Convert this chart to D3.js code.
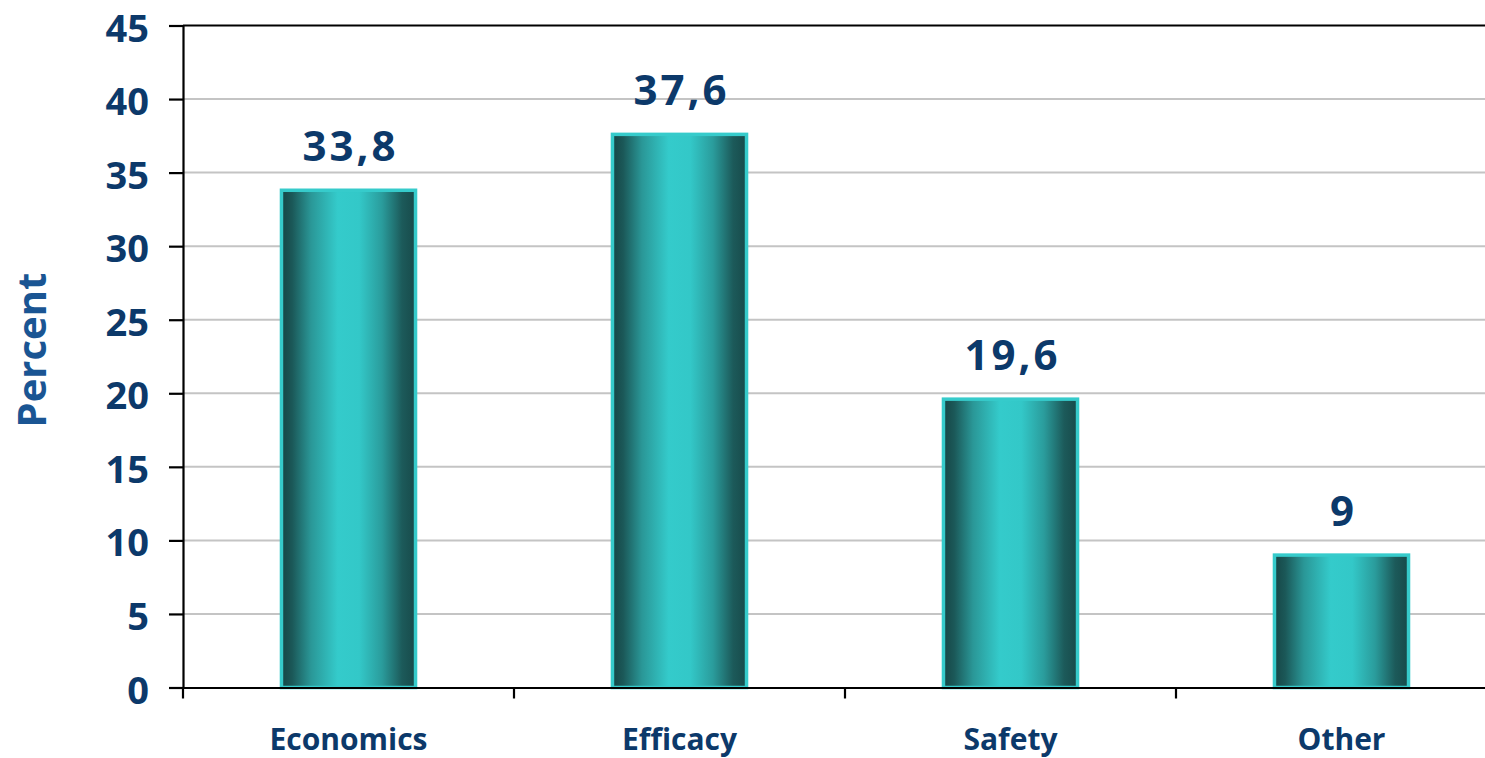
<!DOCTYPE html>
<html>
<head>
<meta charset="utf-8">
<script src="https://cdn.jsdelivr.net/npm/d3@7"></script>
<style>
  html, body { margin: 0; padding: 0; background: #fff; overflow: hidden; }
  svg { display: block; }
</style>
</head>
<body>
<script>
const categories = ["Economics", "Efficacy", "Safety", "Other"];
const values = [33.8, 37.6, 19.6, 9];
const valueLabels = ["33,8", "37,6", "19,6", "9"];
const yTicks = [0, 5, 10, 15, 20, 25, 30, 35, 40, 45];
const yTitle = "Percent";

const W = 1485, H = 758;
const plotLeft = 183, plotRight = 1507, plotTop = 25.5, plotBottom = 687.5;

const svg = d3.select("body").append("svg").attr("width", W).attr("height", H);

const x = d3.scaleBand().domain(categories).range([plotLeft, plotRight]).paddingInner(0).paddingOuter(0);
const y = d3.scaleLinear().domain([0, 45]).range([plotBottom, plotTop]);

const defs = svg.append("defs");
const grad = defs.append("linearGradient").attr("id", "barGrad")
  .attr("x1", "0%").attr("x2", "100%").attr("y1", "0%").attr("y2", "0%");
[[0, "#164646"], [0.08, "#1b5858"], [0.22, "#2a9797"], [0.42, "#34cbcb"], [0.58, "#33c8c8"], [0.75, "#2a9c9c"], [0.9, "#1c5a5a"], [1, "#174a4a"]]
  .forEach(([o, c]) => grad.append("stop").attr("offset", o).attr("stop-color", c));

// grid lines
svg.append("g").selectAll("line").data(yTicks.filter(d => d > 0 && d < 45)).join("line")
  .attr("x1", plotLeft).attr("x2", plotRight)
  .attr("y1", d => y(d)).attr("y2", d => y(d))
  .attr("stroke", "#c4c4c4").attr("stroke-width", 2);

// top border line
svg.append("line").attr("x1", plotLeft).attr("x2", plotRight).attr("y1", y(45)).attr("y2", y(45))
  .attr("stroke", "#000").attr("stroke-width", 2);

// bars
const barFrac = 0.405;
const bw = x.bandwidth() * barFrac;
svg.append("g").selectAll("rect").data(categories).join("rect")
  .attr("x", d => x(d) + (x.bandwidth() - bw) / 2)
  .attr("width", bw)
  .attr("y", (d, i) => y(values[i]))
  .attr("height", (d, i) => y(0) - y(values[i]))
  .attr("fill", "url(#barGrad)")
  .attr("stroke", "#36cbcb").attr("stroke-width", 3.5);

// y axis
const yAxis = d3.axisLeft(y).tickValues(yTicks).tickSize(14).tickPadding(20).tickFormat(d3.format("d"));
const ga = svg.append("g").attr("transform", `translate(${plotLeft},0)`).call(yAxis);
ga.select(".domain").attr("stroke", "#000").attr("stroke-width", 2.2);
ga.selectAll(".tick line").attr("stroke", "#000").attr("stroke-width", 2.2);
ga.selectAll(".tick text")
  .attr("fill", "#0c396a").attr("font-family", "'Open Sans', sans-serif")
  .attr("font-weight", 700).attr("font-size", 38).attr("dy", "0.41em");

// x axis
const xAxis = d3.axisBottom(x).tickSize(0).tickPadding(41);
const gx = svg.append("g").attr("transform", `translate(0,${plotBottom})`).call(xAxis);
gx.select(".domain").attr("stroke", "#000").attr("stroke-width", 2.2);
gx.selectAll(".tick text")
  .attr("fill", "#0c396a").attr("font-family", "'Open Sans', sans-serif")
  .attr("font-weight", 700).attr("font-size", 30);
// boundary ticks between categories
svg.append("g").selectAll("line").data(categories).join("line")
  .attr("x1", d => x(d)).attr("x2", d => x(d))
  .attr("y1", plotBottom).attr("y2", plotBottom + 11)
  .attr("stroke", "#000").attr("stroke-width", 2.2);

// value labels
svg.append("g").selectAll("text").data(categories).join("text")
  .attr("x", d => x(d) + x.bandwidth() / 2 + 2)
  .attr("y", (d, i) => y(values[i]) - 29)
  .attr("text-anchor", "middle")
  .attr("fill", "#0c396a").attr("font-family", "'Open Sans', sans-serif")
  .attr("font-weight", 700).attr("font-size", 42).attr("letter-spacing", 3)
  .text((d, i) => valueLabels[i]);

// y title
svg.append("text")
  .attr("transform", `translate(46,${(275 + 425) / 2}) rotate(-90)`)
  .attr("text-anchor", "middle")
  .attr("fill", "#1a5593").attr("font-family", "'Open Sans', sans-serif")
  .attr("font-weight", 700).attr("font-size", 40)
  .text(yTitle);
</script>
</body>
</html>
